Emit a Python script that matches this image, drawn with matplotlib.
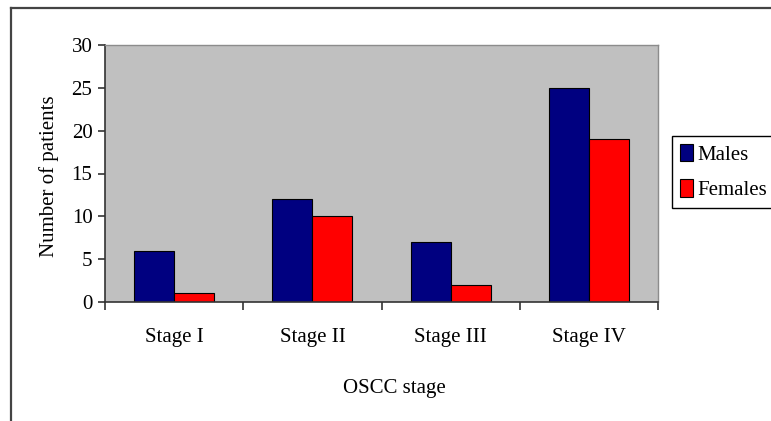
import matplotlib.pyplot as plt
from matplotlib.lines import Line2D
from matplotlib.patches import Patch
import numpy as np

# Patients per OSCC stage, split by sex
stages = ['Stage I', 'Stage II', 'Stage III', 'Stage IV']
males = [6, 12, 7, 25]
females = [1, 10, 2, 19]

plt.rcParams['font.family'] = 'Liberation Serif'
plt.rcParams['font.size'] = 15

fig = plt.figure(figsize=(7.71, 4.21), dpi=100)
ax = fig.add_axes([105 / 771, 1 - 302 / 421, 553 / 771, 257 / 421])
ax.set_facecolor('#c0c0c0')

x = np.arange(len(stages))
w = 0.29
ax.bar(x - w / 2, males, w, color='#000080', edgecolor='black', linewidth=0.8)
ax.bar(x + w / 2, females, w, color='#ff0000', edgecolor='black', linewidth=0.8)

ax.set_xlim(-0.5, len(stages) - 0.5)
ax.set_ylim(0, 30)
ax.set_yticks(range(0, 31, 5))

# category boundaries get the tick marks, centres get the labels
ax.set_xticks(np.arange(-0.5, len(stages), 1.0))
ax.set_xticklabels([])
ax.set_xticks(x, minor=True)
ax.set_xticklabels(stages, minor=True)
ax.tick_params(axis='x', which='major', length=6, width=1.2, color='#333333')
ax.tick_params(axis='x', which='minor', length=0, pad=19)
ax.tick_params(axis='y', length=5, width=1.2, pad=4, color='#333333')

for side in ['left', 'bottom']:
    ax.spines[side].set_color('#333333')
    ax.spines[side].set_linewidth(1.2)
for side in ['top', 'right']:
    ax.spines[side].set_color('#8c8c8c')
    ax.spines[side].set_linewidth(1.0)

ax.set_ylabel('Number of patients')
ax.yaxis.set_label_coords(-0.084, 0.49)
ax.set_xlabel('OSCC stage')
ax.xaxis.set_label_coords(0.524, -0.3)

handles = [Patch(facecolor='#000080', edgecolor='black', linewidth=0.8),
           Patch(facecolor='#ff0000', edgecolor='black', linewidth=0.8)]
leg = fig.legend(handles, ['Males', 'Females'], loc='upper left',
                 bbox_to_anchor=(672 / 771, 1 - 136 / 421), borderaxespad=0,
                 fancybox=False, framealpha=1, edgecolor='black',
                 handlelength=0.65, handleheight=0.9, handletextpad=0.2,
                 labelspacing=0.7, borderpad=0.38, prop={'size': 15})
leg.get_frame().set_linewidth(1.0)

# outer chart border (left and top edges)
fig.add_artist(Line2D([11 / 771, 11 / 771], [0, 1 - 8 / 421], color='#444444', linewidth=1.6))
fig.add_artist(Line2D([11 / 771, 1], [1 - 8 / 421, 1 - 8 / 421], color='#444444', linewidth=1.6))

fig.savefig('out.png', dpi=100)
